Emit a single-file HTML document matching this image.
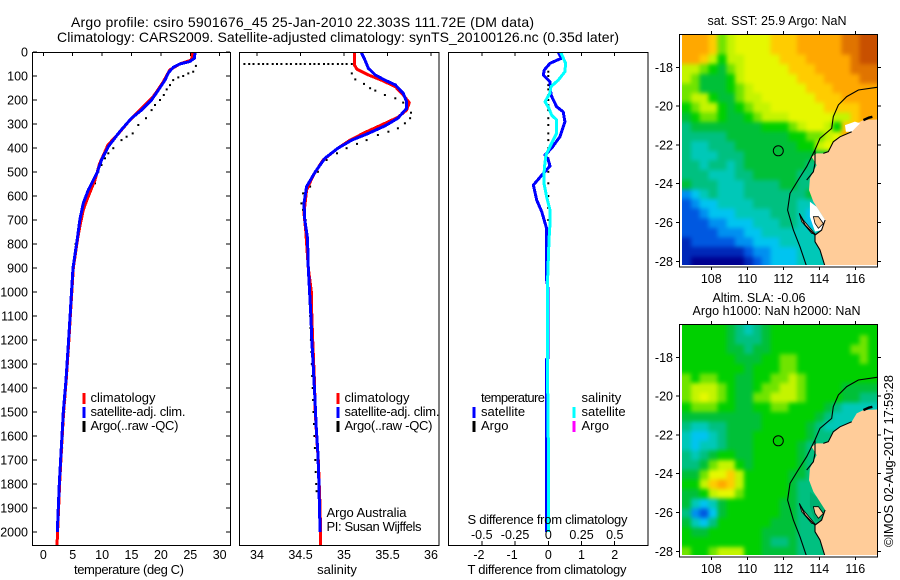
<!DOCTYPE html>
<html lang="en">
<head>
<meta charset="utf-8">
<title>Argo profile chart</title>
<style>
html,body{margin:0;padding:0;background:#fff;}
svg{display:block;}
text{font-family:"Liberation Sans",sans-serif;fill:#000;}
.t{font-size:14px;}
.l{font-size:13px;}
.k{font-size:12.5px;}
</style>
</head>
<body>
<svg id="chart" xmlns="http://www.w3.org/2000/svg" width="900" height="580" viewBox="0 0 900 580">
<rect x="0" y="0" width="900" height="580" fill="#fff"/>
<defs>
<clipPath id="clipMap1"><rect x="682" y="35" width="195" height="230"/></clipPath>
<clipPath id="clipMap2"><rect x="682" y="325" width="195" height="230"/></clipPath>
<filter id="cellBlur" x="-5%" y="-5%" width="110%" height="110%" color-interpolation-filters="sRGB"><feGaussianBlur stdDeviation="2.2"/></filter>
</defs>
<text class="t" x="71" y="27" textLength="463" lengthAdjust="spacing">Argo profile: csiro 5901676_45 25-Jan-2010 22.303S 111.72E (DM data)</text>
<text class="t" x="57" y="42" textLength="562" lengthAdjust="spacing">Climatology: CARS2009. Satellite-adjusted climatology: synTS_20100126.nc (0.35d later)</text>

<g id="profileLayer"></g>
<g id="mapLayer"></g>

<text class="l" x="74" y="574" textLength="110" lengthAdjust="spacing">temperature (deg C)</text>
<text class="l" x="337" y="574" text-anchor="middle">salinity</text>
<text class="l" x="467.5" y="574" textLength="159" lengthAdjust="spacing">T difference from climatology</text>
<text class="l" x="467.5" y="524" textLength="160" lengthAdjust="spacing">S difference from climatology</text>

<g>
<rect x="82.5" y="393" width="3" height="11" fill="#f00"/>
<rect x="82.5" y="407" width="3" height="11" fill="#00f"/>
<rect x="82.5" y="421" width="3" height="11" fill="#000"/>
<text class="l" x="90.5" y="402">climatology</text>
<text class="l" x="90.5" y="416" textLength="95" lengthAdjust="spacing">satellite-adj. clim.</text>
<text class="l" x="90.5" y="430" textLength="88" lengthAdjust="spacing">Argo(..raw -QC)</text>
</g>
<g>
<rect x="336.5" y="393" width="3" height="11" fill="#f00"/>
<rect x="336.5" y="407" width="3" height="11" fill="#00f"/>
<rect x="336.5" y="421" width="3" height="11" fill="#000"/>
<text class="l" x="344.5" y="402">climatology</text>
<text class="l" x="344.5" y="416" textLength="95" lengthAdjust="spacing">satellite-adj. clim.</text>
<text class="l" x="344.5" y="430" textLength="88" lengthAdjust="spacing">Argo(..raw -QC)</text>
<text class="l" x="326.5" y="517" textLength="80" lengthAdjust="spacing">Argo Australia</text>
<text class="l" x="326.5" y="531" textLength="95" lengthAdjust="spacing">PI: Susan Wijffels</text>
</g>
<g>
<rect x="472.5" y="407" width="3" height="11" fill="#00f"/>
<rect x="472.5" y="421" width="3" height="11" fill="#000"/>
<rect x="572.5" y="407" width="3" height="11" fill="#0ff"/>
<rect x="572.5" y="421" width="3" height="11" fill="#f0f"/>
<text class="l" x="481" y="402" textLength="64" lengthAdjust="spacing">temperature</text>
<text class="l" x="481" y="416">satellite</text>
<text class="l" x="481" y="430">Argo</text>
<text class="l" x="581.5" y="402">salinity</text>
<text class="l" x="581.5" y="416">satellite</text>
<text class="l" x="581.5" y="430">Argo</text>
</g>

<text class="k" x="777" y="25" text-anchor="middle" textLength="139" lengthAdjust="spacing">sat. SST: 25.9 Argo: NaN</text>
<text class="k" x="712.5" y="302" textLength="93" lengthAdjust="spacing">Altim. SLA: -0.06</text>
<text class="k" x="692.5" y="315" textLength="168" lengthAdjust="spacing">Argo h1000: NaN h2000: NaN</text>
<text class="l" transform="translate(893,547) rotate(-90)" textLength="172" lengthAdjust="spacing">©IMOS 02-Aug-2017 17:59:28</text>
</svg>

<script>
// ---- profile depths (m) and values ----
const tempClimDepth = [3,33,50,75,124,186,235,290,339,387,464,533,617,658,728,776,900,1000,1100,1200,1367,1500,1600,1700,1800,1900,2000,2054];
const tempClim = [25.4,25.2,23.2,21.5,20.4,18.7,16.7,14.5,12.8,11,9.6,8.8,7.4,6.8,6.2,5.85,5.1,4.85,4.6,4.35,3.9,3.45,3.22,3,2.77,2.6,2.43,2.33];
const tempSatDepth = [3,26,40,50,64,86,117,158,200,242,276,332,394,450,506,575,630,700,776,900,1000,1100,1200,1367,1500,1600,1700,1800,1900,2000];
const tempSat = [25.8,25.7,24.9,23.2,22.1,21.3,20.7,19.6,18.4,16.7,15,13,11.05,9.9,9.1,7.65,6.8,6.2,5.8,5.05,4.8,4.55,4.3,3.86,3.4,3.18,2.95,2.72,2.55,2.38];
const tempArgoDepth = [58,82,89,100,106,117,138,156,179,200,221,242,276,304,339,353,367,401,422,443,471,499,547,600,650,700,750,800,850,900,950,1000,1050,1100,1150,1200,1250,1300,1350,1400,1450,1500,1550,1600,1650,1700];
const tempArgo = [25.96,25.5,24.66,23.8,22.96,22.1,21.54,20.98,20.5,19.84,19,18.42,17.46,16.16,15.2,14.17,13.3,11.9,11.05,10.5,9.9,9.35,8.8,7.6,6.8,6.4,6,5.5,5.3,5.15,5,4.9,4.75,4.6,4.5,4.4,4.3,4.15,4,3.85,3.7,3.55,3.45,3.3,3.2,3.1];

const salClimDepth = [3,54,72,96,117,144,179,211,242,272,304,332,367,401,450,512,575,672,742,900,1000,1100,1200,1367,1500,1600,1700,1800,1900,2000,2054];
const salClim = [35.12,35.12,35.15,35.28,35.43,35.59,35.68,35.75,35.72,35.62,35.43,35.26,35.07,34.93,34.76,34.65,34.57,34.54,34.56,34.59,34.625,34.63,34.64,34.66,34.67,34.685,34.705,34.715,34.725,34.73,34.73];
const salSatDepth = [3,33,68,96,117,137,172,207,235,276,308,339,367,401,443,499,561,631,700,776,900,1000,1100,1200,1367,1450,1561,1672,1783,1922,2000];
const salSat = [35.2,35.24,35.28,35.36,35.47,35.59,35.68,35.72,35.72,35.62,35.47,35.28,35.09,34.93,34.78,34.67,34.57,34.54,34.55,34.58,34.59,34.605,34.62,34.63,34.655,34.667,34.68,34.7,34.71,34.72,34.727];
const salArgoDepth = [50,50,50,50,50,50,50,50,50,50,50,50,50,50,50,50,50,50,50,50,50,50,50,50,50,89,114,133,151,161,179,193,211,221,253,276,297,318,332,346,367,383,401,422,450,499,561,589,631,658,700,750,800,850,900,950,1000,1050,1100,1150,1200,1250,1300,1350,1400,1450,1500,1550,1600,1650,1700,1750,1800,1830];
const salArgo = [33.855,33.91,33.96,34.02,34.07,34.12,34.18,34.23,34.28,34.34,34.39,34.45,34.5,34.55,34.61,34.66,34.71,34.77,34.82,34.87,34.93,34.98,35.03,35.09,35.12,35.09,35.13,35.23,35.3,35.36,35.47,35.59,35.68,35.74,35.77,35.76,35.7,35.62,35.51,35.39,35.26,35.15,35.03,34.92,34.8,34.7,34.61,34.53,34.51,34.53,34.56,34.57,34.58,34.585,34.59,34.595,34.6,34.605,34.61,34.615,34.62,34.625,34.63,34.635,34.64,34.645,34.65,34.655,34.66,34.665,34.67,34.675,34.68,34.685];

const diffTDepth = [3,26,47,75,96,124,179,228,249,290,353,401,429,450,475,506,554,617,665,735,950,985,1275,1280,1600,2000];
const diffT = [0.3,0.4,0.05,-0.12,-0.15,0.05,0.08,0.25,0.45,0.5,0.35,0.1,-0.1,0,0.05,-0.15,-0.45,-0.35,-0.2,-0.05,-0.05,-0.01,-0.01,-0.05,-0.05,-0.05];
const diffSDepth = [3,47,82,117,144,172,207,235,263,283,339,394,429,485,547,603,658,714,783,950,1367,1660,2000];
const diffS = [0.095,0.13,0.125,0.075,0.02,0.012,-0.025,0.005,0.025,0.0625,0.0625,0.0125,-0.0175,-0.03,-0.0325,-0.0125,0.0125,0.0125,0.005,-0.005,-0.005,0.001,0.001];
const diffArgoDepth = [58,82,100,117,138,156,179,200,221,242,276,304,339,367,401,443,499,547,600,650,700];
const diffArgoT = [0,0,0,0,0,0,0,0,0,0,0,0,0,0,0,0,0,0,0,0,0];

// ---- tick labels ----
const depthTicks = [0,100,200,300,400,500,600,700,800,900,1000,1100,1200,1300,1400,1500,1600,1700,1800,1900,2000];
const tempTicks = [0,5,10,15,20,25,30];
const salTicks = [34,34.5,35,35.5,36];
const diffTTicks = [-2,-1,0,1,2];
const diffSTicks = [-0.5,-0.25,0,0.25,0.5];
const lonTicks = [108,110,112,114,116];
const latTicks = [-18,-20,-22,-24,-26,-28];

// ---- map colour levels, 0.5 degree cells, rows north to south; land is painted over ----
const sstGrid = [
[13,13,13,12,9,10,11,11,11,11,12,12,12,13,13,13,13,13,14,14,15,15],
[13,13,13,12,9,10,11,11,11,11,12,12,12,13,13,13,13,13,14,14,15,15],
[13,13,12,10,8,10,10,11,11,11,11,12,12,12,13,13,13,13,13,14,15,15],
[10,10,9,8,7,9,10,11,11,11,11,11,12,12,12,13,13,13,13,14,14,14],
[10,9,7,7,7,8,10,11,11,11,11,11,11,12,12,12,13,13,13,13,14,14],
[9,9,7,7,7,8,9,10,11,11,11,11,11,11,12,12,12,13,13,13,13,13],
[9,10,10,8,7,7,9,10,10,11,11,11,11,11,11,12,12,12,13,13,13,13],
[8,9,10,10,8,7,8,9,10,10,11,11,11,11,11,11,12,12,12,12,13,13],
[7,8,9,9,8,7,7,8,9,10,10,10,11,11,11,11,11,10,10,12,13,13],
[6,7,7,7,7,7,7,7,7,8,8,8,9,10,11,11,10,8,12,12,13,13],
[6,6,6,6,6,7,7,7,7,7,7,7,8,8,9,9,10,11,13,13,13,13],
[6,5,5,6,6,6,7,7,7,7,7,7,7,8,8,10,11,11,11,11,11,11],
[6,5,5,5,6,6,6,7,7,7,7,7,7,7,7,7,7,7,7,7,7,7],
[6,6,5,6,6,5,6,7,7,7,7,7,7,7,6,6,6,6,6,6,6,6],
[6,6,6,5,5,5,6,6,7,7,7,7,7,6,6,6,6,6,6,6,6,6],
[7,6,6,6,5,5,5,6,6,6,6,7,7,6,6,6,6,6,6,6,6,6],
[3,4,5,6,5,5,5,6,6,6,6,6,6,6,7,7,7,7,7,7,7,7],
[2,3,4,4,5,5,5,5,6,6,6,6,6,5,5,5,5,5,5,5,5,5],
[2,2,3,4,4,4,5,5,5,5,6,6,6,5,4,4,4,4,4,4,4,4],
[2,2,2,3,3,4,4,4,5,5,5,6,6,5,4,4,4,4,4,4,4,4],
[2,2,2,2,3,3,3,4,4,5,5,5,5,5,5,5,5,5,5,5,5,5],
[1,2,2,2,2,2,3,3,4,4,4,5,5,5,5,5,5,5,5,5,5,5],
[1,1,1,1,1,1,1,2,3,3,4,4,4,5,5,5,5,5,5,5,5,5],
[1,0,0,0,0,0,0,1,2,3,4,4,4,5,5,5,5,5,5,5,5,5]
];
const slaGrid = [
[8,8,8,8,8,7,6,5,6,7,8,8,8,8,8,8,8,8,8,8,8,8],
[8,8,8,8,8,7,6,6,6,7,8,8,8,8,8,8,8,8,8,8,9,8],
[8,8,8,8,8,7,7,6,7,7,8,8,8,8,8,8,8,8,8,9,9,8],
[8,8,8,8,8,8,7,7,7,8,8,9,9,8,8,8,8,8,8,8,9,8],
[8,8,8,8,8,8,8,7,8,8,8,9,9,8,8,8,8,8,8,8,8,8],
[9,8,9,9,8,8,7,7,8,8,9,9,10,9,8,8,8,8,8,8,8,8],
[9,10,10,10,9,8,7,7,8,9,9,10,10,9,8,8,8,8,7,7,7,7],
[9,10,11,10,9,8,7,7,9,9,10,10,10,9,8,8,8,8,7,7,6,6],
[8,9,9,9,8,8,7,7,8,8,9,9,8,8,8,8,7,6,5,5,5,5],
[7,7,7,7,7,7,7,7,7,8,8,8,8,8,8,7,6,5,5,5,5,5],
[6,5,5,6,6,7,7,7,7,8,8,8,8,8,7,6,5,5,5,5,5,5],
[5,4,4,5,6,7,7,7,8,8,8,8,8,8,7,6,6,6,6,6,6,6],
[5,4,5,5,6,7,7,7,8,8,8,8,8,7,6,6,6,6,6,6,6,6],
[6,5,6,7,8,8,7,7,8,8,8,8,8,7,6,6,6,6,6,6,6,6],
[6,6,7,9,10,10,8,7,8,8,8,8,8,7,6,6,6,6,6,6,6,6],
[7,7,9,11,11,12,10,8,8,8,8,8,7,7,6,6,6,6,6,6,6,6],
[8,8,10,12,13,12,10,8,8,8,8,8,7,6,6,6,6,6,6,6,6,6],
[7,7,8,10,11,11,9,8,8,8,8,8,7,6,6,6,6,6,6,6,6,6],
[7,5,4,5,7,8,8,8,8,8,8,7,7,6,6,6,6,6,6,6,6,6],
[6,3,2,4,7,8,8,8,8,8,8,7,7,6,6,6,6,6,6,6,6,6],
[7,5,4,6,8,8,8,8,8,8,7,7,7,6,6,6,6,6,6,6,6,6],
[8,7,7,8,8,8,8,8,8,7,7,7,7,6,6,6,6,6,6,6,6,6],
[8,8,8,8,8,8,8,8,8,7,6,6,7,6,6,6,6,6,6,6,6,6],
[9,8,8,9,10,10,10,8,8,7,7,7,7,6,6,6,6,6,6,6,6,6]
];
const levelColours = ['#000090','#0028b8','#0058e0','#0090f0','#00c4f0','#00c8b8','#00c080','#00c038','#00d000','#70e400','#c4f400','#e6f800','#ffcc00','#ffa800','#e07400','#c85000'];

// ---- coastline and isobaths in degrees ----
const landLon = [117.4,116.45,116.08,115.8,115.15,114.78,114.5,114.22,113.85,113.58,113.85,113.48,113.43,113.67,114.32,114.13,113.76,113.76,114.04,114.32,117.4];
const landLat = [-20.68,-20.72,-20.89,-21.32,-21.58,-21.84,-22.35,-22.44,-22.44,-22.61,-23.04,-23.72,-24.33,-24.93,-25.87,-26.39,-26.65,-26.99,-27.42,-28.4,-28.4];
const bayLon = [113.48,113.85,114.32,114.13,113.76,113.48];
const bayLat = [-24.93,-25.19,-25.87,-26.39,-26.47,-25.7];
const peninsulaLon = [113.67,113.95,114.22,113.95,113.76];
const peninsulaLat = [-25.7,-25.7,-26.05,-26.3,-26.04];
const islandLon = [112.89,113.11,113.76,113.58,113.02];
const islandLat = [-25.53,-25.87,-26.59,-26.56,-25.96];
const capeLon = [115.43,115.48,115.8,116.26,115.98,115.71];
const capeLat = [-20.98,-21.32,-21.32,-20.89,-20.8,-20.89];
const outerLon = [117.22,116.17,115.52,115.06,114.78,114.69,114.04,113.76,113.3,112.83,112.37,112.24,112.56,112.93,113.3];
const outerLat = [-19.03,-19.17,-19.51,-19.94,-20.54,-21.15,-21.66,-22.26,-23.12,-23.81,-24.5,-25.36,-26.39,-27.25,-28.28];
const innerLon = [113.76,113.76,113.67,113.3];
const innerLat = [-22.26,-22.95,-23.38,-23.81];
const innerSouthLon = [112.89,113.21,113.76,114.13,114.32];
const innerSouthLat = [-25.53,-26.13,-26.65,-26.39,-25.87];
const southCoastLon = [113.76,113.76,114.04,114.32];
const southCoastLat = [-26.65,-26.99,-27.42,-28.28];
const gulfLon = [114.22,114.5,114.78,115.15,115.8];
const gulfLat = [-22.44,-22.35,-21.84,-21.58,-21.32];
const topBlobLon = [116.45,116.75,116.95];
const topBlobLat = [-20.72,-20.6,-20.55];
const floatLon = 111.72;
const floatLat = -22.303;

// ---- axis functions ----
const NS = 'http://www.w3.org/2000/svg';
const depthY = d => 52 + d * 0.24;
const tempX = v => 43.3 + v * 5.88;
const salX = v => 257 + (v - 34) * 87;
const diffTX = v => 548.3 + v * 33.2;
const diffSX = v => 548.3 + v * 133;
const lonX = v => 711.3 + (v - 108) * 18;
const map1Y = v => 67.3 + (-18 - v) * 19.4;
const map2Y = v => 357.3 + (-18 - v) * 19.4;

function mk(tag, parent, attrs) {
  const el = document.createElementNS(NS, tag);
  for (const k in attrs) el.setAttribute(k, attrs[k]);
  parent.appendChild(el);
  return el;
}
function linePts(xs, ys, fx, fy) {
  return xs.map((v, i) => fx(v).toFixed(1) + ',' + fy(ys[i]).toFixed(1)).join(' ');
}
function drawLine(parent, values, depths, fx, colour, name) {
  const el = mk('polyline', parent, {points: linePts(values, depths, fx, depthY), fill: 'none', stroke: colour, 'stroke-width': 3, 'shape-rendering': 'crispEdges', 'stroke-linejoin': 'round'});
  
  
}
function drawDots(parent, values, depths, fx, name) {
  const g = mk('g', parent, {});
  
  
  values.forEach((v, i) => {
    const dot = mk('rect', g, {x: (fx(v) - 1).toFixed(1), y: (depthY(depths[i]) - 1).toFixed(1), width: 2, height: 2, fill: '#000'});
    
    
  });
}
function frame(parent, x, y, w, h, name) {
  const el = mk('rect', parent, {x: x, y: y, width: w, height: h, fill: 'none', stroke: '#000', 'stroke-width': 1.2, 'shape-rendering': 'crispEdges'});
  
  
}
function tick(parent, x1, y1, x2, y2) {
  const el = mk('line', parent, {x1: x1, y1: y1, x2: x2, y2: y2, stroke: '#000', 'stroke-width': 1, 'shape-rendering': 'crispEdges'});
  
  
}
function label(parent, x, y, str, anchor) {
  const el = mk('text', parent, {x: x, y: y, 'text-anchor': anchor, class: 'k'});
  el.textContent = str;
  
  
}
function topTicks(parent, ticks, fx, top) {
  ticks.forEach(t => tick(parent, fx(t), top, fx(t), top + 4));
}
function bottomTicks(parent, ticks, fx, bottom) {
  ticks.forEach(t => tick(parent, fx(t), bottom, fx(t), bottom - 4));
}

// ---- profile panels ----
const prof = document.getElementById('profileLayer');

const p1 = mk('g', prof, {});


drawDots(p1, tempArgo, tempArgoDepth, tempX, 'temperature-argo-series');
drawLine(p1, tempClim, tempClimDepth, tempX, '#f00', 'temperature-climatology-line');
drawLine(p1, tempSat, tempSatDepth, tempX, '#00f', 'temperature-satellite-line');
frame(p1, 32.5, 52.5, 198, 493, 'temperature-plot-frame');
topTicks(p1, tempTicks, tempX, 52);
tempTicks.forEach(t => label(p1, tempX(t), 559, String(t), 'middle'));
depthTicks.forEach(d => {
  tick(p1, 33, depthY(d), 37, depthY(d));
  tick(p1, 230, depthY(d), 226, depthY(d));
  label(p1, 28, depthY(d) + 4.5, String(d), 'end');
});

const p2 = mk('g', prof, {});


drawDots(p2, salArgo, salArgoDepth, salX, 'salinity-argo-series');
drawLine(p2, salClim, salClimDepth, salX, '#f00', 'salinity-climatology-line');
drawLine(p2, salSat, salSatDepth, salX, '#00f', 'salinity-satellite-line');
frame(p2, 239.5, 52.5, 199.5, 493, 'salinity-plot-frame');
topTicks(p2, salTicks, salX, 52);
salTicks.forEach(t => label(p2, salX(t), 559, String(t), 'middle'));

const p3 = mk('g', prof, {});


drawDots(p3, diffArgoT, diffArgoDepth, diffTX, 'temperature-argo-difference-series');
drawLine(p3, diffT, diffTDepth, diffTX, '#00f', 'temperature-difference-line');
drawLine(p3, diffS, diffSDepth, diffSX, '#0ff', 'salinity-difference-line');
frame(p3, 448.5, 52.5, 199.5, 493, 'difference-plot-frame');
topTicks(p3, diffTTicks, diffTX, 52);
bottomTicks(p3, diffTTicks, diffTX, 545);
diffTTicks.forEach(t => label(p3, diffTX(t) - (t < 0 ? 3 : 0), 559, String(t), 'middle'));
diffSTicks.forEach(t => label(p3, diffSX(t), 539, String(t), 'middle'));

// ---- maps ----
const maps = document.getElementById('mapLayer');
function polyPath(lons, lats, fy) {
  return lons.map((v, i) => lonX(v).toFixed(1) + ',' + fy(lats[i]).toFixed(1)).join(' ');
}
function drawMap(grid, fy, clip, top, bottom, name, showBlanks) {
  const g = mk('g', maps, {});
  
  
  const inner = mk('g', g, {'clip-path': 'url(#' + clip + ')'});
  
  
  const cells = mk('g', inner, {filter: 'url(#cellBlur)'});
  
  
  grid.forEach((row, r) => {
    row.forEach((lvl, c) => {
      const lon0 = 106.37 + c * 0.4925;
      const lat0 = -16.35 - r * 0.4965;
      const extraL = c === 0 ? 14 : 0;
      const extraR = c === row.length - 1 ? 14 : 0;
      const extraT = r === 0 ? 14 : 0;
      const extraB = r === grid.length - 1 ? 14 : 0;
      const cell = mk('rect', cells, {x: (lonX(lon0) - extraL).toFixed(1), y: (fy(lat0) - extraT).toFixed(1), width: 9.2 + extraL + extraR, height: 10 + extraT + extraB, fill: levelColours[lvl], 'shape-rendering': 'crispEdges'});
      
      
    });
  });
  const land = mk('polygon', inner, {points: polyPath(landLon, landLat, fy), fill: '#ffcc99'});
  
  
  const bay = mk('polygon', inner, {points: polyPath(bayLon, bayLat, fy), fill: showBlanks ? '#fff' : '#00b070'});
  
  
  const peninsula = mk('polygon', inner, {points: polyPath(peninsulaLon, peninsulaLat, fy), fill: '#ffcc99', stroke: '#000', 'stroke-width': 0.8});
  
  
  const island = mk('polygon', inner, {points: polyPath(islandLon, islandLat, fy), fill: '#ffcc99', stroke: '#000', 'stroke-width': 0.8});
  
  
  if (showBlanks) {
    const cape = mk('polygon', inner, {points: polyPath(capeLon, capeLat, fy), fill: '#fff'});
    
    
  }
  [[outerLon, outerLat, 'shelf-isobath', 1.1], [innerLon, innerLat, 'inner-isobath', 1.1], [innerSouthLon, innerSouthLat, 'inner-isobath-south', 1.1], [southCoastLon, southCoastLat, 'south-coastline', 1.1], [gulfLon, gulfLat, 'gulf-coastline', 1.1], [topBlobLon, topBlobLat, 'north-coastline', 2.4]].forEach(s => {
    const ln = mk('polyline', inner, {points: polyPath(s[0], s[1], fy), fill: 'none', stroke: '#000', 'stroke-width': s[3]});
    
    
  });
  const marker = mk('circle', g, {cx: lonX(floatLon).toFixed(1), cy: fy(floatLat).toFixed(1), r: 5, fill: 'none', stroke: '#000', 'stroke-width': 1});
  
  
  frame(g, 679.5, top + 0.5, 198, bottom - top - 0.5, name + '-frame');
  lonTicks.forEach(t => {
    tick(g, lonX(t), top, lonX(t), top - 3);
    tick(g, lonX(t), bottom, lonX(t), bottom + 3);
    label(g, lonX(t), bottom + 16, String(t), 'middle');
  });
  latTicks.forEach(t => {
    tick(g, 679, fy(t), 676, fy(t));
    tick(g, 878, fy(t), 881, fy(t));
    label(g, 673, fy(t) + 4.5, String(t), 'end');
  });
}
drawMap(sstGrid, map1Y, 'clipMap1', 34, 267, 'sst-map', true);
drawMap(slaGrid, map2Y, 'clipMap2', 324, 557, 'sla-map', false);
</script>
</body>
</html>
